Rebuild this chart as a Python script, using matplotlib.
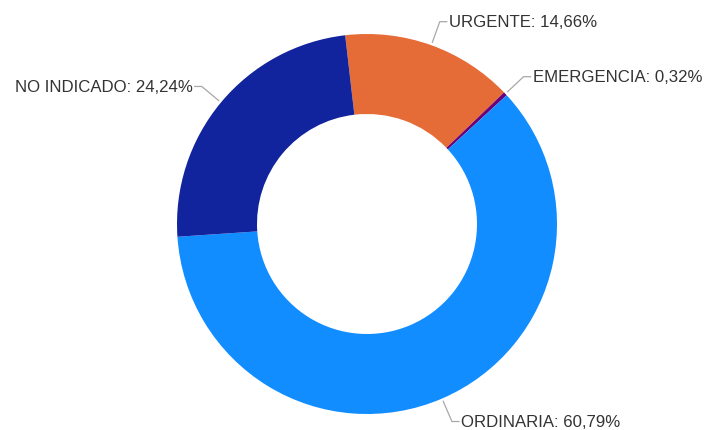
import numpy as np
import matplotlib.pyplot as plt

# slice data (clockwise, starting just left of 12 o'clock)
categories = ["URGENTE", "EMERGENCIA", "ORDINARIA", "NO INDICADO"]
shares = [14.66, 0.32, 60.79, 24.24]
labels = ["URGENTE: 14,66%", "EMERGENCIA: 0,32%", "ORDINARIA: 60,79%", "NO INDICADO: 24,24%"]
colors = ["#E66C37", "#6B007B", "#118DFF", "#12239E"]

W, H = 706, 431
cx, cy = 367, H - 225
r_out, r_in = 190, 110
start = 96.6  # degrees, counter-clockwise from +x

fig = plt.figure(figsize=(W / 100, H / 100), dpi=100)
ax = fig.add_axes([0, 0, 1, 1])
ax.set_xlim(0, W)
ax.set_ylim(0, H)
ax.set_aspect("equal")
ax.axis("off")

wedges, _ = ax.pie(shares, colors=colors, startangle=start, counterclock=False,
                   radius=r_out, center=(cx, cy),
                   wedgeprops=dict(width=r_out - r_in, linewidth=0))
ax.set_xlim(0, W)
ax.set_ylim(0, H)

for w, lab in zip(wedges, labels):
    mid = np.deg2rad((w.theta1 + w.theta2) / 2)
    ux, uy = np.cos(mid), np.sin(mid)
    p1 = (cx + 193 * ux, cy + 193 * uy)
    p2 = (cx + 215 * ux, cy + 215 * uy)
    side = 1 if ux >= 0 else -1
    p3 = (p2[0] + side * 7, p2[1])
    ax.plot([p1[0], p2[0], p3[0]], [p1[1], p2[1], p3[1]], color="#a8a8a8", lw=0.9)
    ax.text(p3[0] + side * 2, p3[1], lab, ha="left" if side > 0 else "right",
            va="center", fontsize=12.1, color="#333333", family="Liberation Sans")

fig.savefig("out.png", dpi=100)
